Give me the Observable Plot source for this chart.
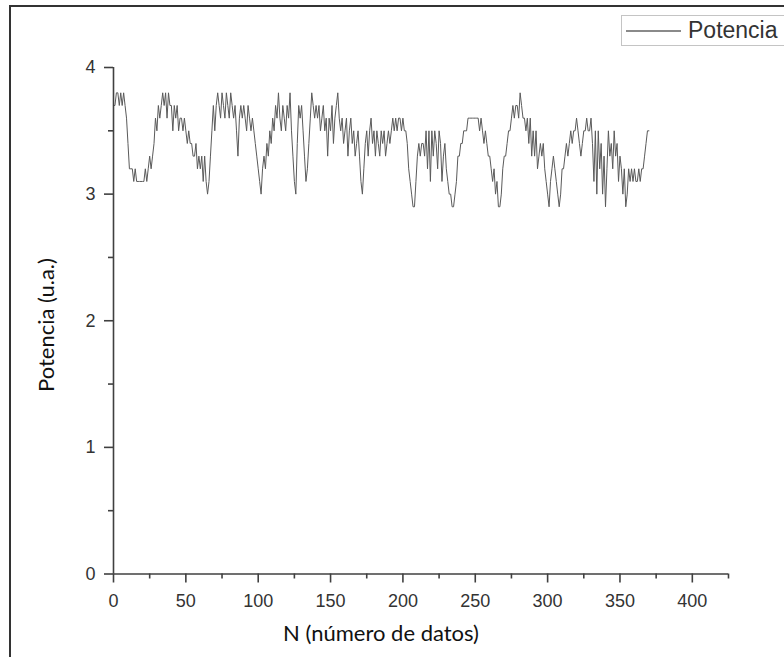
<!DOCTYPE html>
<html>
<head>
<meta charset="utf-8">
<script src="https://cdn.jsdelivr.net/npm/d3@7"></script>
<script src="https://cdn.jsdelivr.net/npm/@observablehq/plot@0.6"></script>
<style>
  html, body { margin: 0; padding: 0; background: #fff; }
  #wrap { position: relative; width: 784px; height: 657px; overflow: hidden; background: #fff; }
  #chart { position: absolute; left: 0; top: 0; }
  #frame { position: absolute; left: 9px; top: 5px; width: 900px; height: 900px;
           border-left: 2px solid #333; border-top: 2px solid #333; pointer-events: none; }
  #legend { position: absolute; left: 621px; top: 15px; width: 170px; height: 29px;
            border: 1px solid #c4c4c4; background: #fff; white-space: nowrap; }
  #legend .sw { position: absolute; left: 4px; top: 14px; width: 55px; height: 0;
                border-top: 2px solid #8a8a8a; }
  #legend .lt { position: absolute; left: 66px; top: 0px; font: 23px "Liberation Sans", Arial, sans-serif;
                color: #333; line-height: 29px; }
  .atitle { position: absolute; font-family: Lato, "Open Sans", sans-serif; font-size: 22px; color: #111; white-space: nowrap; }
  #xt { left: 381px; top: 619px; transform: translateX(-50%); }
  #yt { left: 45px; top: 325px; transform: translate(-50%, -50%) rotate(-90deg); }
</style>
</head>
<body>
<div id="wrap">
  <div id="chart"></div>
  <div id="frame"></div>
  <div id="legend"><div class="sw"></div><div class="lt">Potencia</div></div>
  <div class="atitle" id="xt">N (número de datos)</div>
  <div class="atitle" id="yt">Potencia (u.a.)</div>
</div>
<script>
// Series: Potencia (u.a.) for N = 0 .. 370
const potencia = [
  3.7,3.7,3.8,3.8,3.7,3.8,3.7,3.8,3.7,3.6,
  3.4,3.2,3.2,3.2,3.1,3.2,3.1,3.1,3.1,3.1,
  3.1,3.1,3.2,3.1,3.2,3.3,3.2,3.3,3.4,3.6,
  3.5,3.7,3.6,3.7,3.8,3.7,3.8,3.6,3.8,3.7,
  3.7,3.5,3.7,3.6,3.7,3.5,3.6,3.6,3.5,3.6,
  3.5,3.4,3.5,3.4,3.4,3.3,3.3,3.4,3.2,3.3,
  3.2,3.3,3.1,3.3,3.1,3.0,3.1,3.3,3.5,3.7,
  3.5,3.7,3.8,3.7,3.6,3.8,3.7,3.6,3.8,3.7,
  3.6,3.8,3.7,3.6,3.7,3.5,3.3,3.6,3.7,3.6,
  3.7,3.6,3.5,3.7,3.6,3.5,3.6,3.5,3.4,3.3,
  3.2,3.1,3.0,3.2,3.3,3.2,3.4,3.3,3.5,3.4,
  3.6,3.5,3.7,3.6,3.8,3.6,3.5,3.7,3.6,3.5,
  3.7,3.6,3.8,3.5,3.3,3.1,3.0,3.4,3.7,3.6,
  3.7,3.5,3.3,3.1,3.2,3.4,3.6,3.8,3.7,3.6,
  3.7,3.6,3.7,3.5,3.6,3.7,3.5,3.6,3.3,3.6,
  3.5,3.7,3.4,3.6,3.7,3.8,3.6,3.5,3.6,3.4,
  3.5,3.6,3.3,3.5,3.6,3.4,3.5,3.3,3.4,3.5,
  3.3,3.1,3.0,3.2,3.4,3.5,3.3,3.5,3.6,3.4,
  3.5,3.3,3.5,3.4,3.3,3.5,3.4,3.5,3.3,3.4,
  3.5,3.4,3.5,3.6,3.5,3.6,3.5,3.6,3.6,3.5,
  3.6,3.5,3.5,3.4,3.2,3.1,3.0,2.9,2.9,3.1,
  3.3,3.4,3.3,3.4,3.4,3.3,3.5,3.2,3.5,3.1,
  3.5,3.3,3.5,3.4,3.2,3.5,3.4,3.1,3.3,3.4,
  3.2,3.1,3.0,3.0,2.9,2.9,3.0,3.1,3.3,3.3,
  3.4,3.4,3.5,3.5,3.5,3.6,3.6,3.6,3.6,3.6,
  3.6,3.6,3.6,3.5,3.6,3.5,3.4,3.5,3.4,3.3,
  3.3,3.2,3.1,3.2,3.0,3.1,2.9,2.9,3.0,3.2,
  3.3,3.3,3.4,3.5,3.5,3.6,3.7,3.6,3.7,3.7,
  3.6,3.8,3.7,3.6,3.6,3.5,3.6,3.4,3.6,3.3,
  3.5,3.3,3.5,3.2,3.3,3.4,3.3,3.4,3.2,3.1,
  3.0,2.9,3.1,3.2,3.3,3.2,3.1,3.0,2.9,3.0,
  3.2,3.2,3.3,3.4,3.3,3.4,3.5,3.4,3.5,3.5,
  3.6,3.5,3.4,3.3,3.4,3.5,3.5,3.6,3.5,3.5,
  3.6,3.4,3.1,3.5,3.0,3.5,3.2,3.4,3.0,3.3,
  2.9,3.2,3.5,3.3,3.4,3.2,3.5,3.3,3.4,3.1,
  3.3,3.2,3.0,3.2,2.9,3.0,3.2,3.1,3.2,3.1,
  3.2,3.1,3.1,3.2,3.1,3.2,3.2,3.3,3.4,3.5,
  3.5
];
const N = potencia.map((_, i) => i);

const xMajorTicks = [0, 50, 100, 150, 200, 250, 300, 350, 400];
const xMinorTicks = [25, 75, 125, 175, 225, 275, 325, 375, 425];
const yMajorTicks = [0, 1, 2, 3, 4];
const yMinorTicks = [0.5, 1.5, 2.5, 3.5];

const data = N.map((n, i) => ({n, v: potencia[i]}));
const axisColor = "#404040";
const font = "'Liberation Sans', Arial, sans-serif";

const chart = Plot.plot({
  width: 784,
  height: 657,
  marginLeft: 113,
  marginRight: 56,
  marginTop: 67,
  marginBottom: 83.5,
  x: {domain: [0, 425], axis: null},
  y: {domain: [0, 4], axis: null},
  style: {fontFamily: font, fontSize: "18px", background: "transparent", color: "#333"},
  marks: [
    Plot.lineY(data, {x: "n", y: "v", stroke: "#5a5a5a", strokeWidth: 1}),
    Plot.ruleY([0], {stroke: axisColor, strokeWidth: 1.6}),
    Plot.ruleX([0], {stroke: axisColor, strokeWidth: 1.6}),
    Plot.axisX(xMajorTicks, {tickSize: 9, tickPadding: 11, stroke: axisColor, strokeWidth: 1.6,
      fill: "#333", fontSize: 18, label: null, tickFormat: d => String(d)}),
    Plot.axisX(xMinorTicks, {tickSize: 5, text: null, stroke: axisColor, strokeWidth: 1.6, label: null}),
    Plot.axisY(yMajorTicks, {tickSize: 9, tickPadding: 9, stroke: axisColor, strokeWidth: 1.6,
      fill: "#333", fontSize: 18, label: null, tickFormat: d => String(d)}),
    Plot.axisY(yMinorTicks, {tickSize: 5, text: null, stroke: axisColor, strokeWidth: 1.6, label: null})
  ]
});
document.getElementById("chart").appendChild(chart);
</script>
</body>
</html>
